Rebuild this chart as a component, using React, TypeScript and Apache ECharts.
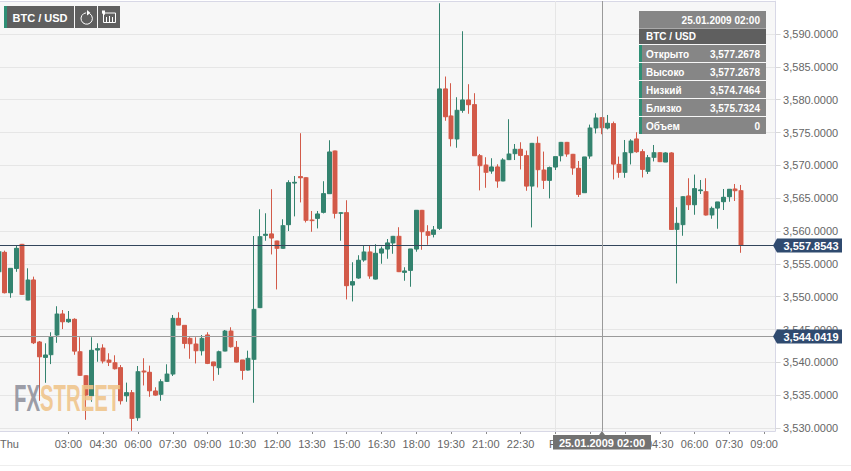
import React, { useEffect, useRef } from "react";
import * as echarts from "echarts";

const FONT = '"Liberation Sans", Arial, sans-serif';

// one candle every 15 minutes, starting Thursday 00:00
const categories: string[] = Array.from({ length: 135 }, (_, i) => {
  if (i === 0) return "Thu";
  if (i === 96) return "Fri";
  const minutes = i * 15;
  const hh = Math.floor(minutes / 60) % 24;
  const mm = minutes % 60;
  return `${String(hh).padStart(2, "0")}:${String(mm).padStart(2, "0")}`;
});

const opens = [
  3553.8, 3556.75, 3550.61, 3554.31, 3557.97, 3549.49, 3552.54, 3543.09, 3540.76, 3541.17,
  3544.16, 3547.36, 3546.19, 3546.55, 3541.62, 3537.97, 3534.92, 3541.88, 3542.18, 3540.35,
  3539.95, 3539.19, 3534.92, 3535.38, 3531.57, 3538.68, 3538.48, 3535.63, 3535.13, 3537.1,
  3538.22, 3546.7, 3545.63, 3543.65, 3542.79, 3541.77, 3544.16, 3540.05, 3539.19, 3541.72,
  3544.77, 3542.28, 3540.35, 3538.83, 3540.46, 3548.33, 3559.35, 3559.55, 3558.48, 3557.36,
  3560.97, 3567.31, 3568.28, 3568.12, 3561.68, 3561.93, 3562.85, 3565.69, 3572.19, 3562.69,
  3562.79, 3551.78, 3552.85, 3555.59, 3556.81, 3552.69, 3556.65, 3557.26, 3558.18, 3559.19,
  3553.71, 3554.01, 3557.26, 3563.15, 3559.9, 3559.5, 3560.41, 3581.63, 3577.52, 3574.01,
  3578.38, 3579.95, 3579.24, 3571.47, 3570.05, 3569.14, 3569.75, 3567.62, 3570.87, 3571.78,
  3572.44, 3571.47, 3566.85, 3573.35, 3569.29, 3567.72, 3569.75, 3571.47, 3573.5, 3571.68,
  3569.54, 3565.84, 3571.42, 3575.69, 3577.2678, 3575.69, 3576.35, 3570.15, 3568.93, 3571.93,
  3574.01, 3572.08, 3569.09, 3571.22, 3571.93, 3570.51, 3571.88, 3560.25, 3560.97, 3565.33,
  3564.01, 3566.15, 3565.99, 3562.44, 3563.5, 3564.47, 3565.23, 3566.4, 3566.14,
];
const closes = [
  3556.85, 3550.61, 3554.31, 3557.36, 3550.35, 3552.54, 3542.99, 3540.86, 3541.11, 3543.91,
  3547.36, 3546.19, 3546.55, 3541.72, 3538.02, 3535.02, 3541.83, 3542.08, 3540.2, 3540.0,
  3539.03, 3534.16, 3535.38, 3531.47, 3538.58, 3538.53, 3535.68, 3535.02, 3537.05, 3538.22,
  3546.7, 3545.68, 3542.89, 3542.84, 3541.77, 3543.65, 3539.85, 3539.49, 3541.62, 3544.77,
  3542.38, 3540.05, 3538.78, 3540.61, 3548.07, 3559.14, 3559.5, 3558.94, 3557.36, 3560.82,
  3567.36, 3567.41, 3568.12, 3561.63, 3561.58, 3562.59, 3565.69, 3572.03, 3562.69, 3562.79,
  3551.68, 3552.29, 3555.54, 3556.81, 3553.15, 3556.6, 3557.26, 3558.18, 3559.19, 3553.81,
  3553.91, 3557.26, 3563.15, 3559.9, 3559.34, 3560.16, 3581.63, 3577.41, 3574.06, 3578.38,
  3579.95, 3579.24, 3571.47, 3569.95, 3568.94, 3569.75, 3567.62, 3570.82, 3571.73, 3572.44,
  3571.52, 3566.85, 3573.35, 3569.34, 3567.72, 3569.65, 3571.32, 3573.5, 3571.73, 3569.6,
  3565.58, 3571.27, 3575.69, 3577.21, 3575.7324, 3576.4, 3570.2, 3568.93, 3571.93, 3573.71,
  3572.08, 3569.39, 3571.17, 3571.93, 3570.56, 3571.88, 3560.25, 3561.17, 3565.23, 3564.01,
  3566.45, 3566.25, 3562.44, 3563.45, 3564.42, 3565.13, 3566.35, 3566.14, 3557.8543,
];
const lows = [
  3553.5, 3550.51, 3549.85, 3553.8, 3550.35, 3549.49, 3542.79, 3534.16, 3536.9, 3539.74,
  3542.99, 3545.07, 3546.04, 3541.17, 3538.02, 3531.27, 3534.01, 3540.1, 3539.85, 3539.44,
  3538.93, 3533.6, 3534.01, 3529.59, 3531.11, 3536.5, 3534.77, 3534.92, 3534.16, 3537.05,
  3537.92, 3545.68, 3542.13, 3540.56, 3539.85, 3541.06, 3539.74, 3537.21, 3538.12, 3541.72,
  3542.28, 3540.0, 3537.36, 3538.78, 3533.86, 3548.33, 3558.53, 3556.45, 3551.12, 3557.36,
  3560.0, 3562.24, 3564.37, 3561.32, 3559.9, 3560.41, 3562.69, 3565.69, 3561.93, 3558.53,
  3549.6, 3549.29, 3552.74, 3555.33, 3552.74, 3552.64, 3555.03, 3555.79, 3556.55, 3553.76,
  3552.44, 3551.53, 3556.86, 3557.16, 3557.92, 3559.04, 3560.16, 3576.8, 3572.9, 3572.69,
  3578.02, 3577.87, 3571.47, 3566.2, 3566.6, 3568.73, 3566.6, 3567.62, 3570.87, 3570.81,
  3569.39, 3566.14, 3560.56, 3566.65, 3566.4, 3564.98, 3569.29, 3570.61, 3571.32, 3568.58,
  3565.18, 3565.84, 3571.02, 3574.87, 3574.7464, 3575.48, 3567.87, 3568.12, 3568.12, 3570.15,
  3571.93, 3568.17, 3568.68, 3570.61, 3570.51, 3570.51, 3560.25, 3552.03, 3559.29, 3563.2,
  3562.49, 3565.64, 3562.39, 3561.88, 3560.36, 3563.2, 3564.47, 3564.57, 3556.7,
];
const highs = [
  3557.1, 3557.0, 3554.31, 3557.76, 3557.97, 3554.31, 3553.04, 3543.25, 3542.89, 3544.57,
  3548.53, 3547.97, 3547.82, 3546.7, 3543.81, 3537.97, 3543.81, 3542.89, 3542.74, 3541.37,
  3541.06, 3539.59, 3536.9, 3535.79, 3539.44, 3540.61, 3539.49, 3536.19, 3537.41, 3539.69,
  3547.21, 3547.61, 3545.63, 3543.81, 3543.81, 3544.16, 3544.57, 3540.05, 3541.77, 3544.92,
  3545.33, 3543.25, 3540.35, 3541.77, 3559.24, 3563.3, 3562.69, 3566.35, 3558.48, 3561.78,
  3567.72, 3568.38, 3574.88, 3568.12, 3563.05, 3563.05, 3567.57, 3573.81, 3572.19, 3562.79,
  3564.67, 3555.23, 3556.3, 3557.72, 3557.72, 3557.97, 3557.62, 3558.78, 3559.19, 3560.56,
  3554.47, 3557.26, 3563.15, 3563.15, 3560.87, 3560.76, 3594.67, 3583.51, 3582.49, 3580.36,
  3590.41, 3582.34, 3580.97, 3571.73, 3571.22, 3571.07, 3570.15, 3571.07, 3577.01, 3573.25,
  3573.5, 3572.23, 3573.35, 3574.37, 3572.08, 3569.8, 3571.32, 3573.5, 3573.5, 3571.68,
  3570.66, 3571.27, 3576.19, 3577.92, 3577.2678, 3577.67, 3576.65, 3571.32, 3573.86, 3573.96,
  3575.03, 3572.44, 3571.58, 3573.1, 3571.93, 3571.98, 3571.98, 3563.61, 3565.23, 3568.02,
  3568.58, 3567.77, 3568.02, 3563.71, 3564.42, 3566.4, 3566.4, 3567.16, 3567.01,
];

const yTickValues = [3530, 3535, 3540, 3545, 3550, 3555, 3560, 3565, 3570, 3575, 3580, 3585, 3590];
const lastPrice = 3557.8543;
const markerPrice = 3544.0419;
const dayStartIndex = 96;
const crosshairIndex = 104;
const crosshairLabel = "25.01.2009 02:00";
const instrument = "BTC / USD";
const panelLabels = ["Открыто", "Высоко", "Низкий", "Близко", "Объем"];
const volumeText = "0";

const RED = "#d25a49";
const GREEN = "#34836f";

const fmt = (v: number) =>
  v.toLocaleString("en-US", { minimumFractionDigits: 4, maximumFractionDigits: 4 });

const candleData = opens.map((o, i) => [o, closes[i], lows[i], highs[i]]);

function priceLineItem(params: any, api: any) {
  const y = Math.round(api.coord([0, api.value(1)])[1]) + 0.5;
  const color = params.dataIndex === 0 ? "#33465c" : "#9a9a9a";
  return {
    type: "group",
    children: [
      { type: "line", shape: { x1: 0, y1: y, x2: 775, y2: y }, style: { stroke: color, lineWidth: 1 } },
      {
        type: "polygon",
        shape: { points: [[773, y], [777, y - 7], [842, y - 7], [842, y + 7], [777, y + 7]] },
        style: { fill: "#2f4a6f" },
      },
      {
        type: "text",
        style: {
          text: fmt(api.value(1)),
          x: 811,
          y,
          align: "center",
          verticalAlign: "middle",
          fill: "#ffffff",
          font: `bold 11px ${FONT}`,
        },
      },
    ],
  };
}

function crosshairItem(_p: any, api: any) {
  const x = Math.round(api.coord([api.value(0), 3560])[0]);
  return {
    type: "group",
    children: [
      { type: "line", shape: { x1: x + 0.5, y1: 1, x2: x + 0.5, y2: 431 }, style: { stroke: "#9a9a9a", lineWidth: 1 } },
      { type: "polygon", shape: { points: [[x - 3, 435], [x, 431], [x + 3, 435]] }, style: { fill: "#777777" } },
      { type: "rect", shape: { x: x - 49, y: 435, width: 98, height: 14.5 }, style: { fill: "#727272" } },
      {
        type: "text",
        style: {
          text: crosshairLabel,
          x,
          y: 443,
          align: "center",
          verticalAlign: "middle",
          fill: "#ffffff",
          font: `bold 11px ${FONT}`,
        },
      },
    ],
  };
}

function dayLineItem(_p: any, api: any) {
  const x = Math.round(api.coord([api.value(0), 3560])[0]) + 0.5;
  return { type: "line", shape: { x1: x, y1: 1, x2: x, y2: 431 }, style: { stroke: "#e6e6e6", lineWidth: 1 } };
}

function buildGraphics() {
  const txt = (text: string, x: number, y: number, align: string, font: string, fill = "#ffffff") => ({
    type: "text",
    z: 102,
    style: { text, x, y, align, verticalAlign: "middle", font, fill },
  });
  const rect = (x: number, y: number, width: number, height: number, fill: string, z = 100) => ({
    type: "rect",
    z,
    shape: { x, y, width, height },
    style: { fill },
  });
  const white = { stroke: "#ffffff", lineWidth: 1, fill: "none" };
  const panelFont = `bold 10px ${FONT}`;
  const rowValues = [
    fmt(opens[crosshairIndex]),
    fmt(highs[crosshairIndex]),
    fmt(lows[crosshairIndex]),
    fmt(closes[crosshairIndex]),
    volumeText,
  ];
  const rowTops = [45, 63, 81, 99, 117];
  const rows = panelLabels.flatMap((label, i) => [
    rect(639, rowTops[i], 127, 17, "#868686"),
    rect(639, rowTops[i], 3, 17, "#2f8f75", 101),
    txt(label, 646, rowTops[i] + 9, "left", panelFont),
    txt(rowValues[i], 760, rowTops[i] + 9, "right", panelFont),
  ]);
  return [
    { type: "rect", z: -10, shape: { x: 0, y: 1, width: 775.5, height: 430 }, style: { fill: "#f7f7f7" } },
    {
      type: "polyline",
      z: 1,
      shape: { points: [[0, 1.5], [775.5, 1.5], [775.5, 431.5], [0, 431.5]] },
      style: { stroke: "#d8d8e6", lineWidth: 1, fill: "none" },
    },
    { type: "line", z: 1, shape: { x1: 0, y1: 465.5, x2: 851, y2: 465.5 }, style: { stroke: "#eeeeee", lineWidth: 1 } },

    // first day label, kept inside the page at the left edge
    txt(categories[0], 0, 444, "left", `11px ${FONT}`, "#666666"),

    // watermark
    {
      type: "text",
      z: 50,
      x: 14,
      y: 379,
      scaleX: 0.55,
      style: { text: "FX", font: `bold 37px ${FONT}`, fill: "#8f919c", opacity: 0.88, verticalAlign: "top" },
    },
    {
      type: "text",
      z: 50,
      x: 40,
      y: 379,
      scaleX: 0.55,
      style: { text: "STREET", font: `bold 37px ${FONT}`, fill: "#f0c48a", opacity: 0.88, verticalAlign: "top" },
    },

    // top-left toolbar
    rect(4, 6, 70, 22, "#5f5f5f"),
    rect(4, 6, 3, 22, "#2f8f75", 101),
    txt(instrument, 40, 17.5, "center", `bold 11px ${FONT}`),
    rect(75, 6, 22, 22, "#5f5f5f"),
    rect(98, 6, 22, 22, "#5f5f5f"),
    {
      type: "arc",
      z: 102,
      shape: { cx: 86.7, cy: 18.5, r: 5.7, startAngle: -Math.PI / 2 + 0.6, endAngle: -Math.PI / 2 - 0.1 },
      style: white,
    },
    { type: "polygon", z: 102, shape: { points: [[87, 10], [90.5, 13], [87, 15.5]] }, style: { fill: "#ffffff" } },
    {
      type: "polyline",
      z: 102,
      shape: { points: [[102, 13], [115.5, 13], [115.5, 22.5], [103.5, 22.5], [103.5, 13]] },
      style: white,
    },
    { type: "polygon", z: 102, shape: { points: [[102, 10.5], [105, 10.5], [105, 15], [102, 13]] }, style: { fill: "#ffffff" } },
    { type: "line", z: 102, shape: { x1: 106.5, y1: 17, x2: 106.5, y2: 22 }, style: white },
    { type: "line", z: 102, shape: { x1: 109.5, y1: 16, x2: 109.5, y2: 22 }, style: white },
    { type: "line", z: 102, shape: { x1: 112.5, y1: 17, x2: 112.5, y2: 22 }, style: white },

    // information panel
    rect(639, 11, 127, 17, "#868686"),
    rect(639, 28.5, 127, 15.5, "#5f5f5f"),
    txt(crosshairLabel, 760, 20.5, "right", panelFont),
    txt(instrument, 646, 36.5, "left", panelFont),
    ...rows,
  ];
}

export default function App() {
  const ref = useRef<HTMLDivElement>(null);
  useEffect(() => {
    const chart = echarts.init(ref.current!, null, { renderer: "svg" });
    const band = 5.797;
    const isTick = (i: number) => i >= 12 && (i - 12) % 6 === 0;
    chart.setOption({
      animation: false,
      backgroundColor: "#ffffff",
      textStyle: { fontFamily: FONT },
      grid: {
        left: -4,
        top: 1.17,
        width: band * categories.length,
        height: 426.86,
        containLabel: false,
        outerBoundsMode: "none",
      },
      xAxis: {
        type: "category",
        data: categories,
        offset: 3,
        axisLine: { show: false },
        axisTick: {
          show: true,
          alignWithLabel: true,
          length: 3,
          interval: (i: number) => isTick(i),
          lineStyle: { color: "#8a8a8a" },
        },
        axisLabel: {
          show: true,
          margin: 7,
          fontSize: 11,
          color: "#666666",
          fontFamily: FONT,
          interval: (i: number) => isTick(i),
          hideOverlap: false,
        },
        splitLine: { show: false },
      },
      yAxis: {
        type: "value",
        position: "right",
        min: 3530,
        max: 3595,
        interval: 5,
        offset: -3,
        scale: true,
        axisLine: { show: true, lineStyle: { color: "#d8d8e6" } },
        axisTick: { show: true, length: 5, lineStyle: { color: "#d8d8d8" }, customValues: yTickValues },
        axisLabel: {
          margin: 7.5,
          fontSize: 11,
          color: "#666666",
          fontFamily: FONT,
          customValues: yTickValues,
          formatter: (v: number) => fmt(v),
        },
        splitLine: { show: true, lineStyle: { color: "#e6e6e6", width: 1 } },
      },
      graphic: buildGraphics(),
      series: [
        {
          type: "custom",
          name: "day",
          z: 1,
          silent: true,
          renderItem: dayLineItem,
          encode: { x: 0, y: 1 },
          data: [[dayStartIndex, lastPrice]],
        },
        {
          type: "candlestick",
          name: "halo",
          z: 2,
          clip: false,
          silent: true,
          barWidth: 5,
          itemStyle: { color: "#a8cabf", color0: "#ecaea4", borderColor: "#a8cabf", borderColor0: "#ecaea4", borderWidth: 1 },
          data: candleData,
        },
        {
          type: "candlestick",
          name: instrument,
          z: 3,
          clip: false,
          silent: true,
          barWidth: 4,
          itemStyle: { color: GREEN, color0: RED, borderColor: GREEN, borderColor0: RED, borderWidth: 1 },
          data: candleData,
        },
        {
          type: "custom",
          name: "prices",
          z: 6,
          silent: true,
          clip: false,
          renderItem: priceLineItem,
          encode: { x: 0, y: 1 },
          data: [[0, lastPrice], [0, markerPrice]],
        },
        {
          type: "custom",
          name: "crosshair",
          z: 7,
          silent: true,
          clip: false,
          renderItem: crosshairItem,
          encode: { x: 0, y: 1 },
          data: [[crosshairIndex, closes[crosshairIndex]]],
        },
      ],
    });
    return () => chart.dispose();
  }, []);
  return <div ref={ref} style={{ position: "absolute", left: 0, top: 0, width: 851, height: 471 }} />;
}
